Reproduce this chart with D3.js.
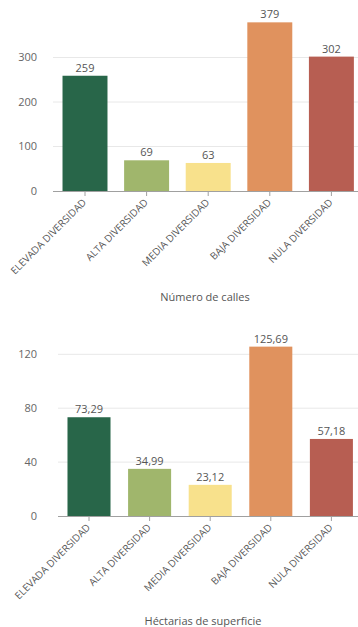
<!DOCTYPE html>
<html>
<head>
<meta charset="utf-8">
<script src="https://cdn.jsdelivr.net/npm/d3@7"></script>
<style>
	body { margin: 0; background: #fff; }
	text { font-family: 'Open Sans', sans-serif; }
</style>
</head>
<body>
<div id="container"></div>
<script>
var categories = ['ELEVADA DIVERSIDAD', 'ALTA DIVERSIDAD', 'MEDIA DIVERSIDAD', 'BAJA DIVERSIDAD', 'NULA DIVERSIDAD'];
var colors = ['#286649', '#a0b66c', '#f8e18c', '#e0925e', '#b75e52'];

var calles = [259, 69, 63, 379, 302];
var callesTicks = [0, 100, 200, 300];

var hectareas = [73.29, 34.99, 23.12, 125.69, 57.18];
var hectareasTicks = [0, 40, 80, 120];

var width = 358,
	height = 627;

var es = d3.formatLocale({ decimal: ',', thousands: '.', grouping: [3], currency: ['', '€'] });

var canvas = d3.select('#container').append('svg')
	.attr('width', width)
	.attr('height', height);

function drawChart(opts) {
	var g = canvas.append('g');

	var yScale = d3.scaleLinear()
		.domain([0, opts.top])
		.range([opts.base, opts.topY]);

	var xScale = d3.scaleBand()
		.domain(categories)
		.range([opts.x0, opts.x1])
		.paddingInner(opts.pad)
		.paddingOuter(opts.pad / 2);

	// grid
	g.selectAll('.grid')
		.data(opts.ticks.filter((t) => t > 0))
		.enter().append('line')
		.attr('x1', opts.axisX).attr('x2', width)
		.attr('y1', (d) => yScale(d)).attr('y2', (d) => yScale(d))
		.attr('stroke', '#e8e8e8')
		.attr('stroke-width', 1);

	// y labels
	g.selectAll('.ylab')
		.data(opts.ticks)
		.enter().append('text')
		.attr('x', 37)
		.attr('y', (d) => yScale(d))
		.attr('dy', '0.35em')
		.attr('text-anchor', 'end')
		.attr('font-size', 11)
		.attr('fill', '#666')
		.text((d) => d);

	// bars
	g.selectAll('rect')
		.data(opts.values)
		.enter().append('rect')
		.attr('x', (d, i) => xScale(categories[i]))
		.attr('width', xScale.bandwidth())
		.attr('y', (d) => yScale(d))
		.attr('height', (d) => yScale(0) - yScale(d))
		.attr('fill', (d, i) => colors[i]);

	// value labels
	g.selectAll('.val')
		.data(opts.values)
		.enter().append('text')
		.attr('x', (d, i) => xScale(categories[i]) + xScale.bandwidth() / 2)
		.attr('y', (d) => yScale(d) - 4)
		.attr('text-anchor', 'middle')
		.attr('font-size', 11)
		.attr('fill', '#555')
		.text((d) => opts.fmt(d));

	// x axis
	var axis = g.append('g')
		.attr('transform', 'translate(0,' + opts.base + ')')
		.call(d3.axisBottom(xScale).tickSize(5).tickSizeOuter(0));
	axis.select('.domain')
		.attr('d', 'M' + opts.axisX + ',0.5H' + width)
		.attr('stroke', '#a0a0a0');
	axis.selectAll('.tick line').attr('stroke', '#a0a0a0');
	axis.selectAll('.tick text')
		.attr('font-family', "'Open Sans', sans-serif")
		.attr('font-size', 10)
		.attr('fill', '#555')
		.attr('text-anchor', 'end')
		.attr('dy', null)
		.attr('y', 0)
		.attr('transform', 'translate(2,12) rotate(-45)');

	g.append('text')
		.attr('x', opts.titleX)
		.attr('y', opts.titleY)
		.attr('text-anchor', 'middle')
		.attr('font-size', 11)
		.attr('fill', '#555')
		.text(opts.title);
}

drawChart({
	values: calles,
	ticks: callesTicks,
	top: 300,
	base: 191,
	topY: 57.5,
	x0: 54.2,
	x1: 362.2,
	pad: 0.27,
	axisX: 53,
	fmt: es.format('d'),
	title: 'Número de calles',
	titleX: 205,
	titleY: 301
});

drawChart({
	values: hectareas,
	ticks: hectareasTicks,
	top: 120,
	base: 516,
	topY: 354.3,
	x0: 58.7,
	x1: 361.7,
	pad: 0.29,
	axisX: 58,
	fmt: es.format('.2f'),
	title: 'Héctarias de superficie',
	titleX: 203,
	titleY: 625
});
</script>
</body>
</html>
